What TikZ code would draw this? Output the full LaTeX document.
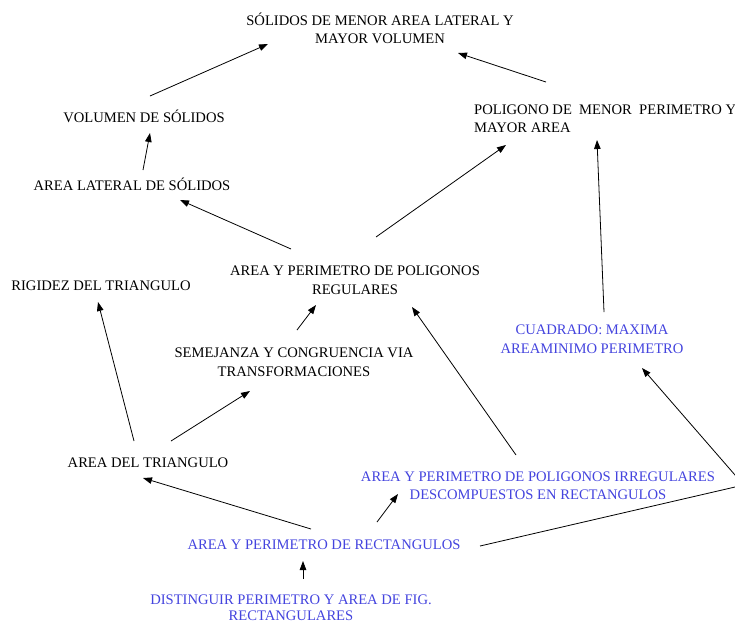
\documentclass[tikz,border=0pt]{standalone}
\usepackage{fontspec}
\setmainfont{Liberation Serif}
\usetikzlibrary{arrows.meta}
\definecolor{conceptblue}{RGB}{68,68,222}
\tikzset{
  concept/.style={inner sep=0pt, align=center, font=\fontsize{14.6}{18.5}\selectfont},
  bluec/.style={concept, text=conceptblue},
  link/.style={line width=0.8pt, -{Triangle[length=9pt,width=6.5pt]}},
  plainlink/.style={line width=0.8pt}
}
\begin{document}
\begin{tikzpicture}[x=1pt,y=-1pt]
\useasboundingbox (0,0) rectangle (735,625);
\clip (0,0) rectangle (735,625);

% concepts
\node[concept] (s)    at (380,28.5) {SÓLIDOS DE MENOR AREA LATERAL Y\\MAYOR VOLUMEN};
\node[concept] (vol)  at (144,116) {VOLUMEN DE SÓLIDOS};
\node[concept] (lat)  at (132,184) {AREA LATERAL DE SÓLIDOS};
\node[concept, align=left, anchor=west] (pmp) at (474,118.5) {POLIGONO DE\ \ MENOR\ \ PERIMETRO Y\\MAYOR AREA};
\node[concept] (preg) at (355,280) {AREA Y PERIMETRO DE POLIGONOS\\REGULARES};
\node[concept] (rig)  at (101,286) {RIGIDEZ DEL TRIANGULO};
\node[concept] (sem)  at (294,362) {SEMEJANZA Y CONGRUENCIA VIA\\TRANSFORMACIONES};
\node[bluec]   (cua)  at (592,339) {CUADRADO: MAXIMA\\AREAMINIMO PERIMETRO};
\node[concept] (tri)  at (148,463) {AREA DEL TRIANGULO};
\node[bluec]   (irr)  at (538,485.5) {AREA Y PERIMETRO DE POLIGONOS IRREGULARES\\DESCOMPUESTOS EN RECTANGULOS};
\node[bluec]   (rect) at (324,545) {AREA Y PERIMETRO DE RECTANGULOS};
\node[bluec, font=\fontsize{14.6}{16.5}\selectfont] (dist) at (291,607.5) {DISTINGUIR PERIMETRO Y AREA DE FIG.\\RECTANGULARES};

% bend point of the long connector, just past the right edge
\coordinate (bend) at (743.7,485);

% connectors
\draw[link] ([shift={(6,-20)}]vol.center) -- ([shift={(-112,15.5)}]s.center);
\draw[link] ([shift={(72,-36.5)}]pmp.west) -- ([shift={(78,24.5)}]s.center);
\draw[link] ([shift={(11,-14)}]lat.center) -- ([shift={(6,17)}]vol.center);
\draw[link] ([shift={(-64,-31)}]preg.center) -- ([shift={(48,16)}]lat.center);
\draw[link] ([shift={(21,-43)}]preg.center) -- ([shift={(32,26.5)}]pmp.west);
\draw[link] ([shift={(12,-27)}]cua.center) -- ([shift={(123,21.5)}]pmp.west);
\draw[link] ([shift={(3,-32)}]sem.center) -- ([shift={(-39,25)}]preg.center);
\draw[link] ([shift={(-14,-22)}]tri.center) -- ([shift={(-3,16)}]rig.center);
\draw[link] ([shift={(23,-22)}]tri.center) -- ([shift={(-44,29)}]sem.center);
\draw[link] ([shift={(-22,-30.5)}]irr.center) -- ([shift={(57,27)}]preg.center);
\draw[link] ([shift={(-13,-16)}]rect.center) -- ([shift={(-5,15)}]tri.center);
\draw[link] ([shift={(53,-23)}]rect.center) -- ([shift={(-140,8.5)}]irr.center);
\draw[link] ([shift={(12,-28.5)}]dist.center) -- ([shift={(-21,16)}]rect.center);
\draw[plainlink] ([shift={(156,1)}]rect.center) -- (bend);
\draw[link] (bend) -- ([shift={(50,29)}]cua.center);
\end{tikzpicture}
\end{document}
